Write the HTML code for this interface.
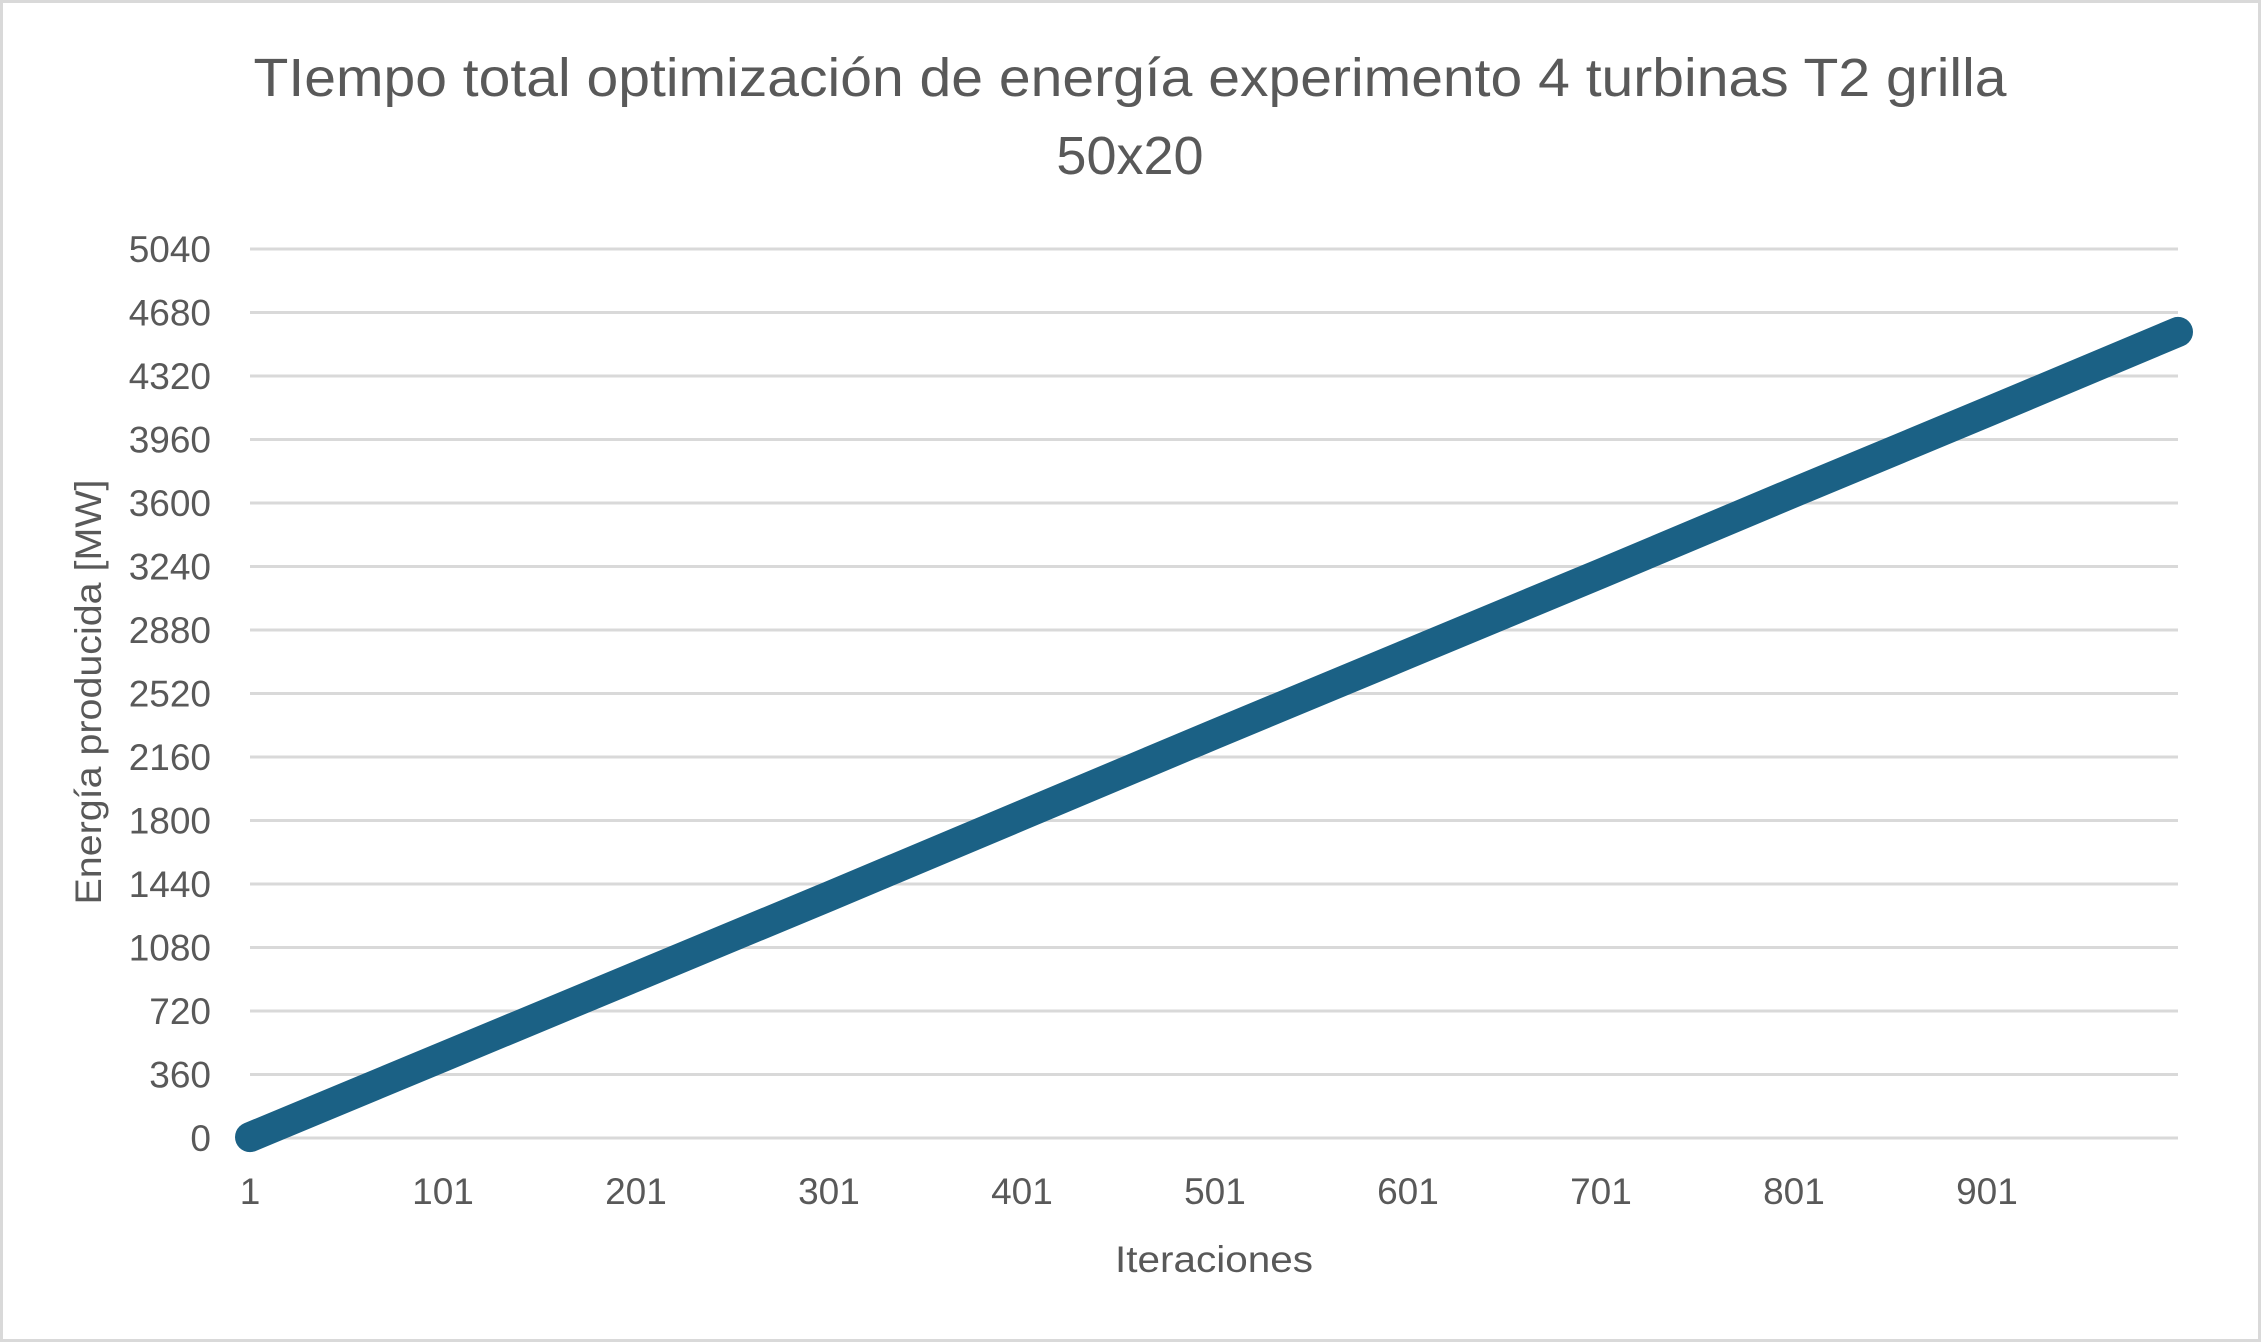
<!DOCTYPE html>
<html><head><meta charset="utf-8"><style>
html,body{margin:0;padding:0;background:#fff;}
svg{display:block;font-family:"Liberation Sans",sans-serif;}
</style></head><body>
<svg id="chart" width="2262" height="1343" viewBox="0 0 2262 1343">
<rect x="1.5" y="1.5" width="2258" height="1339" fill="#fff" stroke="#d9d9d9" stroke-width="3"/>
<text x="1130" y="96" text-anchor="middle" font-size="54" fill="#595959" textLength="1753" lengthAdjust="spacingAndGlyphs">TIempo total optimización de energía experimento 4 turbinas T2 grilla</text>
<text x="1130" y="174" text-anchor="middle" font-size="54" fill="#595959">50x20</text>
<g id="grid"></g>
<g id="yticks"></g>
<g id="xticks"></g>
<g id="series"></g>
<text x="1214" y="1272" text-anchor="middle" font-size="37" fill="#595959" textLength="198" lengthAdjust="spacingAndGlyphs">Iteraciones</text>
<text transform="translate(101,692) rotate(-90)" text-anchor="middle" font-size="37" fill="#595959" textLength="425" lengthAdjust="spacingAndGlyphs">Energía producida [MW]</text>
</svg>
<script>
const yTicks = [0,360,720,1080,1440,1800,2160,2520,2880,3240,3600,3960,4320,4680,5040];
const xTickLabels = [1,101,201,301,401,501,601,701,801,901];
const iterations = [1,101,201,301,401,501,601,701,801,901,1000];
const energy = [5,460,915,1370,1830,2290,2745,3200,3660,4115,4570];

const NS = "http://www.w3.org/2000/svg";
const X0 = 250, X1 = 2178, Y0 = 1138, Y1 = 249;
function xs(i){ return X0 + (i-1)/(1000-1)*(X1-X0); }
function ys(v){ return Y0 - v/5040*(Y0-Y1); }
function mk(tag, attrs, parent){
  const e = document.createElementNS(NS, tag);
  for (const k in attrs) e.setAttribute(k, attrs[k]);
  parent.appendChild(e); return e;
}
const grid = document.getElementById('grid');
const yt = document.getElementById('yticks');
const xt = document.getElementById('xticks');
const ser = document.getElementById('series');
yTicks.forEach(v => {
  const l = mk('line', {x1:X0, x2:X1, y1:ys(v), y2:ys(v), stroke:'#d9d9d9', 'stroke-width':3}, grid);
  
  
  const t = mk('text', {x:211, y:ys(v)+13, 'text-anchor':'end', 'font-size':37, fill:'#595959'}, yt);
  t.textContent = v;
  
  
});
xTickLabels.forEach(v => {
  const t = mk('text', {x:xs(v), y:1204, 'text-anchor':'middle', 'font-size':37, fill:'#595959'}, xt);
  t.textContent = v;
  
  
});
const pts = iterations.map((it, k) => xs(it) + ',' + ys(energy[k])).join(' ');
const pl = mk('polyline', {points:pts, fill:'none', stroke:'#1b6185', 'stroke-width':30, 'stroke-linecap':'round', 'stroke-linejoin':'round'}, ser);


</script>
</body></html>
